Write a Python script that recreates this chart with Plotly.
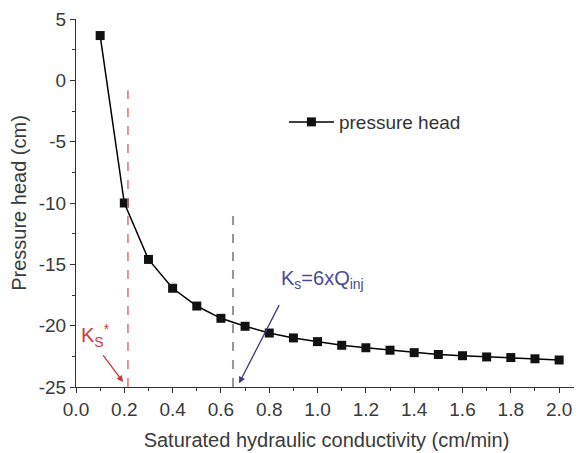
import plotly.graph_objects as go

# Data
conductivity = [0.1, 0.2, 0.3, 0.4, 0.5, 0.6, 0.7, 0.8, 0.9, 1.0,
                1.1, 1.2, 1.3, 1.4, 1.5, 1.6, 1.7, 1.8, 1.9, 2.0]
pressure_head = [3.65, -10.0, -14.6, -16.95, -18.4, -19.4, -20.05, -20.6, -21.0, -21.3,
                 -21.6, -21.8, -22.0, -22.2, -22.35, -22.45, -22.55, -22.6, -22.7, -22.8]

x_ticks = [0.0, 0.2, 0.4, 0.6, 0.8, 1.0, 1.2, 1.4, 1.6, 1.8, 2.0]
y_ticks = [5, 0, -5, -10, -15, -20, -25]
y_tick_text = ['5', '0', '-5', '-10', '-15', '-20', '-25']

ks_star = 0.215
ks_inj = 0.65

fig = go.Figure()

fig.add_trace(go.Scatter(x=conductivity, y=pressure_head,
                         mode='lines+markers', name='pressure head',
                         line=dict(color='black', width=1.5),
                         marker=dict(symbol='square', size=9, color='#111111')))

# Dashed reference lines
fig.add_shape(type='line', x0=ks_star, x1=ks_star, y0=-25, y1=-0.8,
              line=dict(color='#e07070', width=1.5, dash='dash'))
fig.add_shape(type='line', x0=ks_inj, x1=ks_inj, y0=-25, y1=-10.6,
              line=dict(color='#707585', width=1.5, dash='dash'))

# Annotations
fig.add_annotation(x=0.08, y=-20.8, text='K<sub>S</sub><sup>*</sup>', showarrow=False,
                   font=dict(size=20, color='#d03845'))
fig.add_annotation(x=0.195, y=-24.6, ax=0.108, ay=-22.3, axref='x', ayref='y',
                   text='', showarrow=True, arrowhead=2, arrowsize=1, arrowwidth=1.3,
                   arrowcolor='#d03040')
fig.add_annotation(x=0.84, y=-16.2, text='K<sub>s</sub>=6xQ<sub>inj</sub>', showarrow=False,
                   xanchor='left', font=dict(size=20, color='#4a4a95'))
fig.add_annotation(x=0.675, y=-24.7, ax=0.844, ay=-18.2, axref='x', ayref='y',
                   text='', showarrow=True, arrowhead=2, arrowsize=1, arrowwidth=1.3,
                   arrowcolor='#3a3a85')

# page body adds an 8px margin, so the figure is drawn slightly smaller
fig.update_layout(
    width=574, height=445,
    margin=dict(l=68, r=5, t=11, b=66),
    paper_bgcolor='white', plot_bgcolor='white',
    font=dict(family='Liberation Sans, Arial, sans-serif', size=19, color='#3a3a3a'),
    showlegend=True,
    legend=dict(x=0.415, y=0.72, xanchor='left', yanchor='middle', itemwidth=45,
                bgcolor='rgba(0,0,0,0)', font=dict(size=19, color='#333333')),
)

fig.update_xaxes(range=[0, 2.074], tickvals=x_ticks, tickformat='.1f', automargin=False,
                 showline=True, linecolor='#333333', linewidth=1.2,
                 ticks='outside', ticklen=5, tickcolor='#333333',
                 minor=dict(dtick=0.1, ticks='outside', ticklen=3, tickcolor='#333333'),
                 showgrid=False, zeroline=False,
                 title=dict(text='Saturated hydraulic conductivity (cm/min)',
                            font=dict(size=20), standoff=14))
fig.update_yaxes(range=[-25, 5], tickvals=y_ticks, ticktext=y_tick_text, automargin=False,
                 showline=True, linecolor='#333333', linewidth=1.2,
                 ticks='outside', ticklen=5, tickcolor='#333333',
                 minor=dict(dtick=2.5, ticks='outside', ticklen=3, tickcolor='#333333'),
                 showgrid=False, zeroline=False,
                 title=dict(text='Pressure head (cm)', font=dict(size=20), standoff=8))

fig.write_html('out.html')
